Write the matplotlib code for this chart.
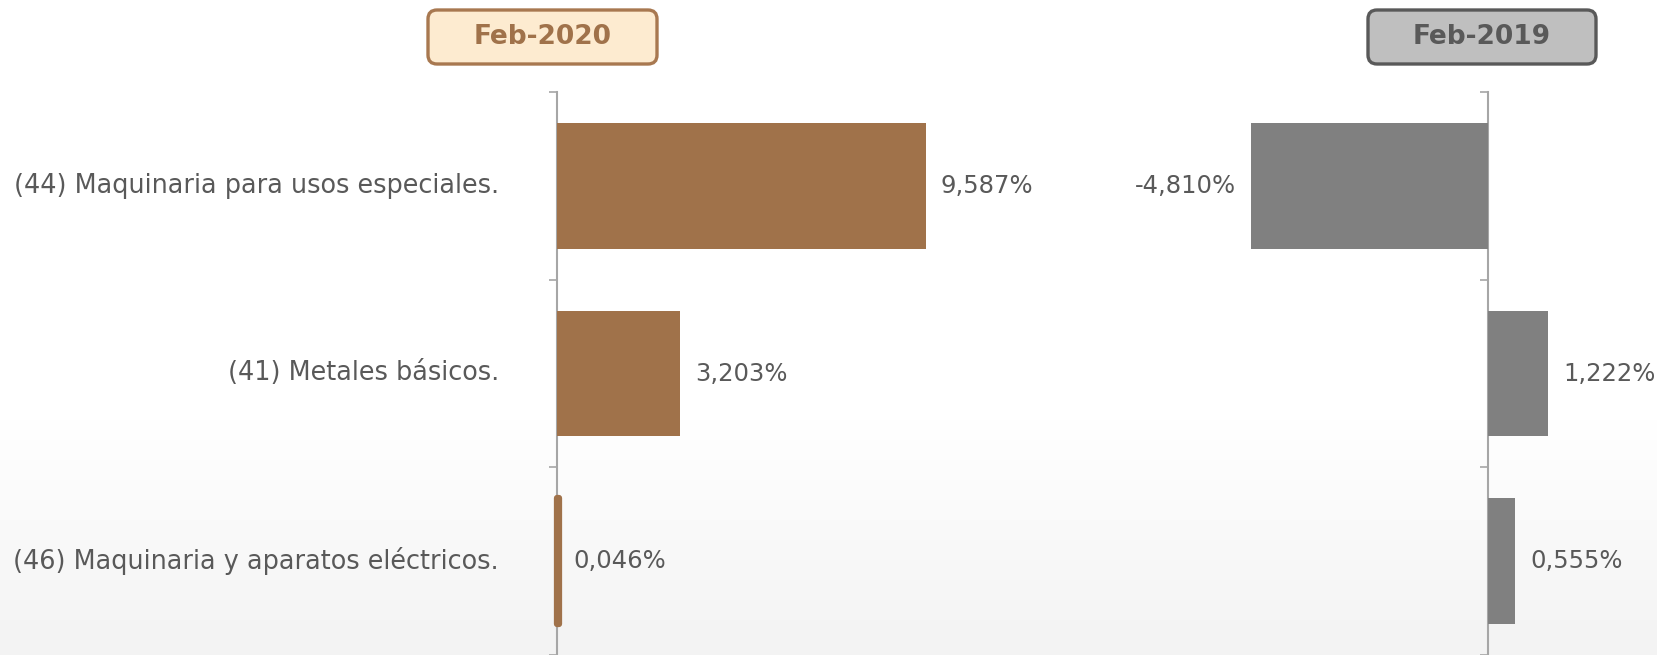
import numpy as np
import matplotlib
matplotlib.use("Agg")
import matplotlib.pyplot as plt
from matplotlib.patches import FancyBboxPatch
from matplotlib.transforms import IdentityTransform

# datos
categorias = ["(44) Maquinaria para usos especiales.",
              "(41) Metales básicos.",
              "(46) Maquinaria y aparatos eléctricos."]
feb_2020 = [9.587, 3.203, 0.046]
feb_2019 = [-4.810, 1.222, 0.555]
titulos = ["Feb-2020", "Feb-2019"]

cafe = "#A0724A"
gris = "#808080"
texto = "#595959"
eje = "#A6A6A6"

plt.rcParams["font.family"] = ["DejaVu Sans"]

W, H = 1657, 655
fig = plt.figure(figsize=(W / 100, H / 100), dpi=100)

# fondo claro con degradado abajo
bg = fig.add_axes([0, 0, 1, 1], zorder=-10)
grad = np.ones((H, 1))
yy = np.arange(H)
grad[:, 0] = np.clip((yy - 400) / 255, 0, 1)
bg.imshow(1 - 0.05 * grad, cmap="gray", vmin=0, vmax=1, aspect="auto",
          extent=[0, 1, 0, 1], origin="upper")
bg.axis("off")


def fmt(v):
    return f"{v:.3f}".replace(".", ",") + "%"


def panel(x0, x1, zero_px, scale, valores, color, lw):
    # x0,x1 en pixeles; zero_px donde cae el 0; scale px por unidad
    top = 92
    ax = fig.add_axes([x0 / W, 0, (x1 - x0) / W, (H - top) / H])
    ax.patch.set_alpha(0)
    y = np.arange(len(valores))
    bars = ax.barh(y, valores, height=0.67, color=color, edgecolor=color,
                   linewidth=lw, zorder=3)
    for b in bars:
        b.set_joinstyle("round")
    ax.set_xlim((x0 - zero_px) / scale, (x1 - zero_px) / scale)
    ax.set_ylim(2.5, -0.5)
    for s in ["top", "right", "bottom"]:
        ax.spines[s].set_visible(False)
    ax.spines["left"].set_position(("data", 0))
    ax.spines["left"].set_color(eje)
    ax.spines["left"].set_linewidth(1.5)
    ax.set_xticks([])
    ax.set_yticks([])
    ax.set_yticks([-0.5, 0.5, 1.5, 2.5], minor=True)
    ax.tick_params(axis="y", which="minor", length=6, width=1.2, color=eje,
                   direction="out", labelleft=False)
    off = 15 / scale
    for yi, v in zip(y, valores):
        if v >= 0:
            ax.text(v + off, yi, fmt(v), va="center", ha="left",
                    fontsize=17.5, color=texto)
        else:
            ax.text(v - off, yi, fmt(v), va="center", ha="right",
                    fontsize=17.5, color=texto)
    return ax


lw_2020 = [0, 0, 4.5]
ax1 = panel(540, 1010, 557, 38.45, feb_2020, cafe, lw_2020)
ax2 = panel(1150, 1657, 1488, 49.3, feb_2019, gris, 0)

for yi, cat in enumerate(categorias):
    ax1.text(-58 / 38.45, yi, cat, ha="right", va="center", fontsize=18.4,
             color=texto)

# cajas de titulo
cajas = [((428, H - 64), 229, 54, "#FDEBD0", "#A87850", cafe),
         ((1368, H - 64), 228, 54, "#BFBFBF", "#595959", "#595959")]
for (xy, w, h, fc, ec, tc), t in zip(cajas, titulos):
    p = FancyBboxPatch(xy, w, h, boxstyle="round,pad=0,rounding_size=9",
                       facecolor=fc, edgecolor=ec, linewidth=2.4,
                       transform=IdentityTransform())
    fig.add_artist(p)
    fig.text((xy[0] + w / 2) / W, (xy[1] + h / 2) / H, t, ha="center",
             va="center", fontsize=19, fontweight="bold", color=tc)

fig.savefig("out.png", dpi=100)
